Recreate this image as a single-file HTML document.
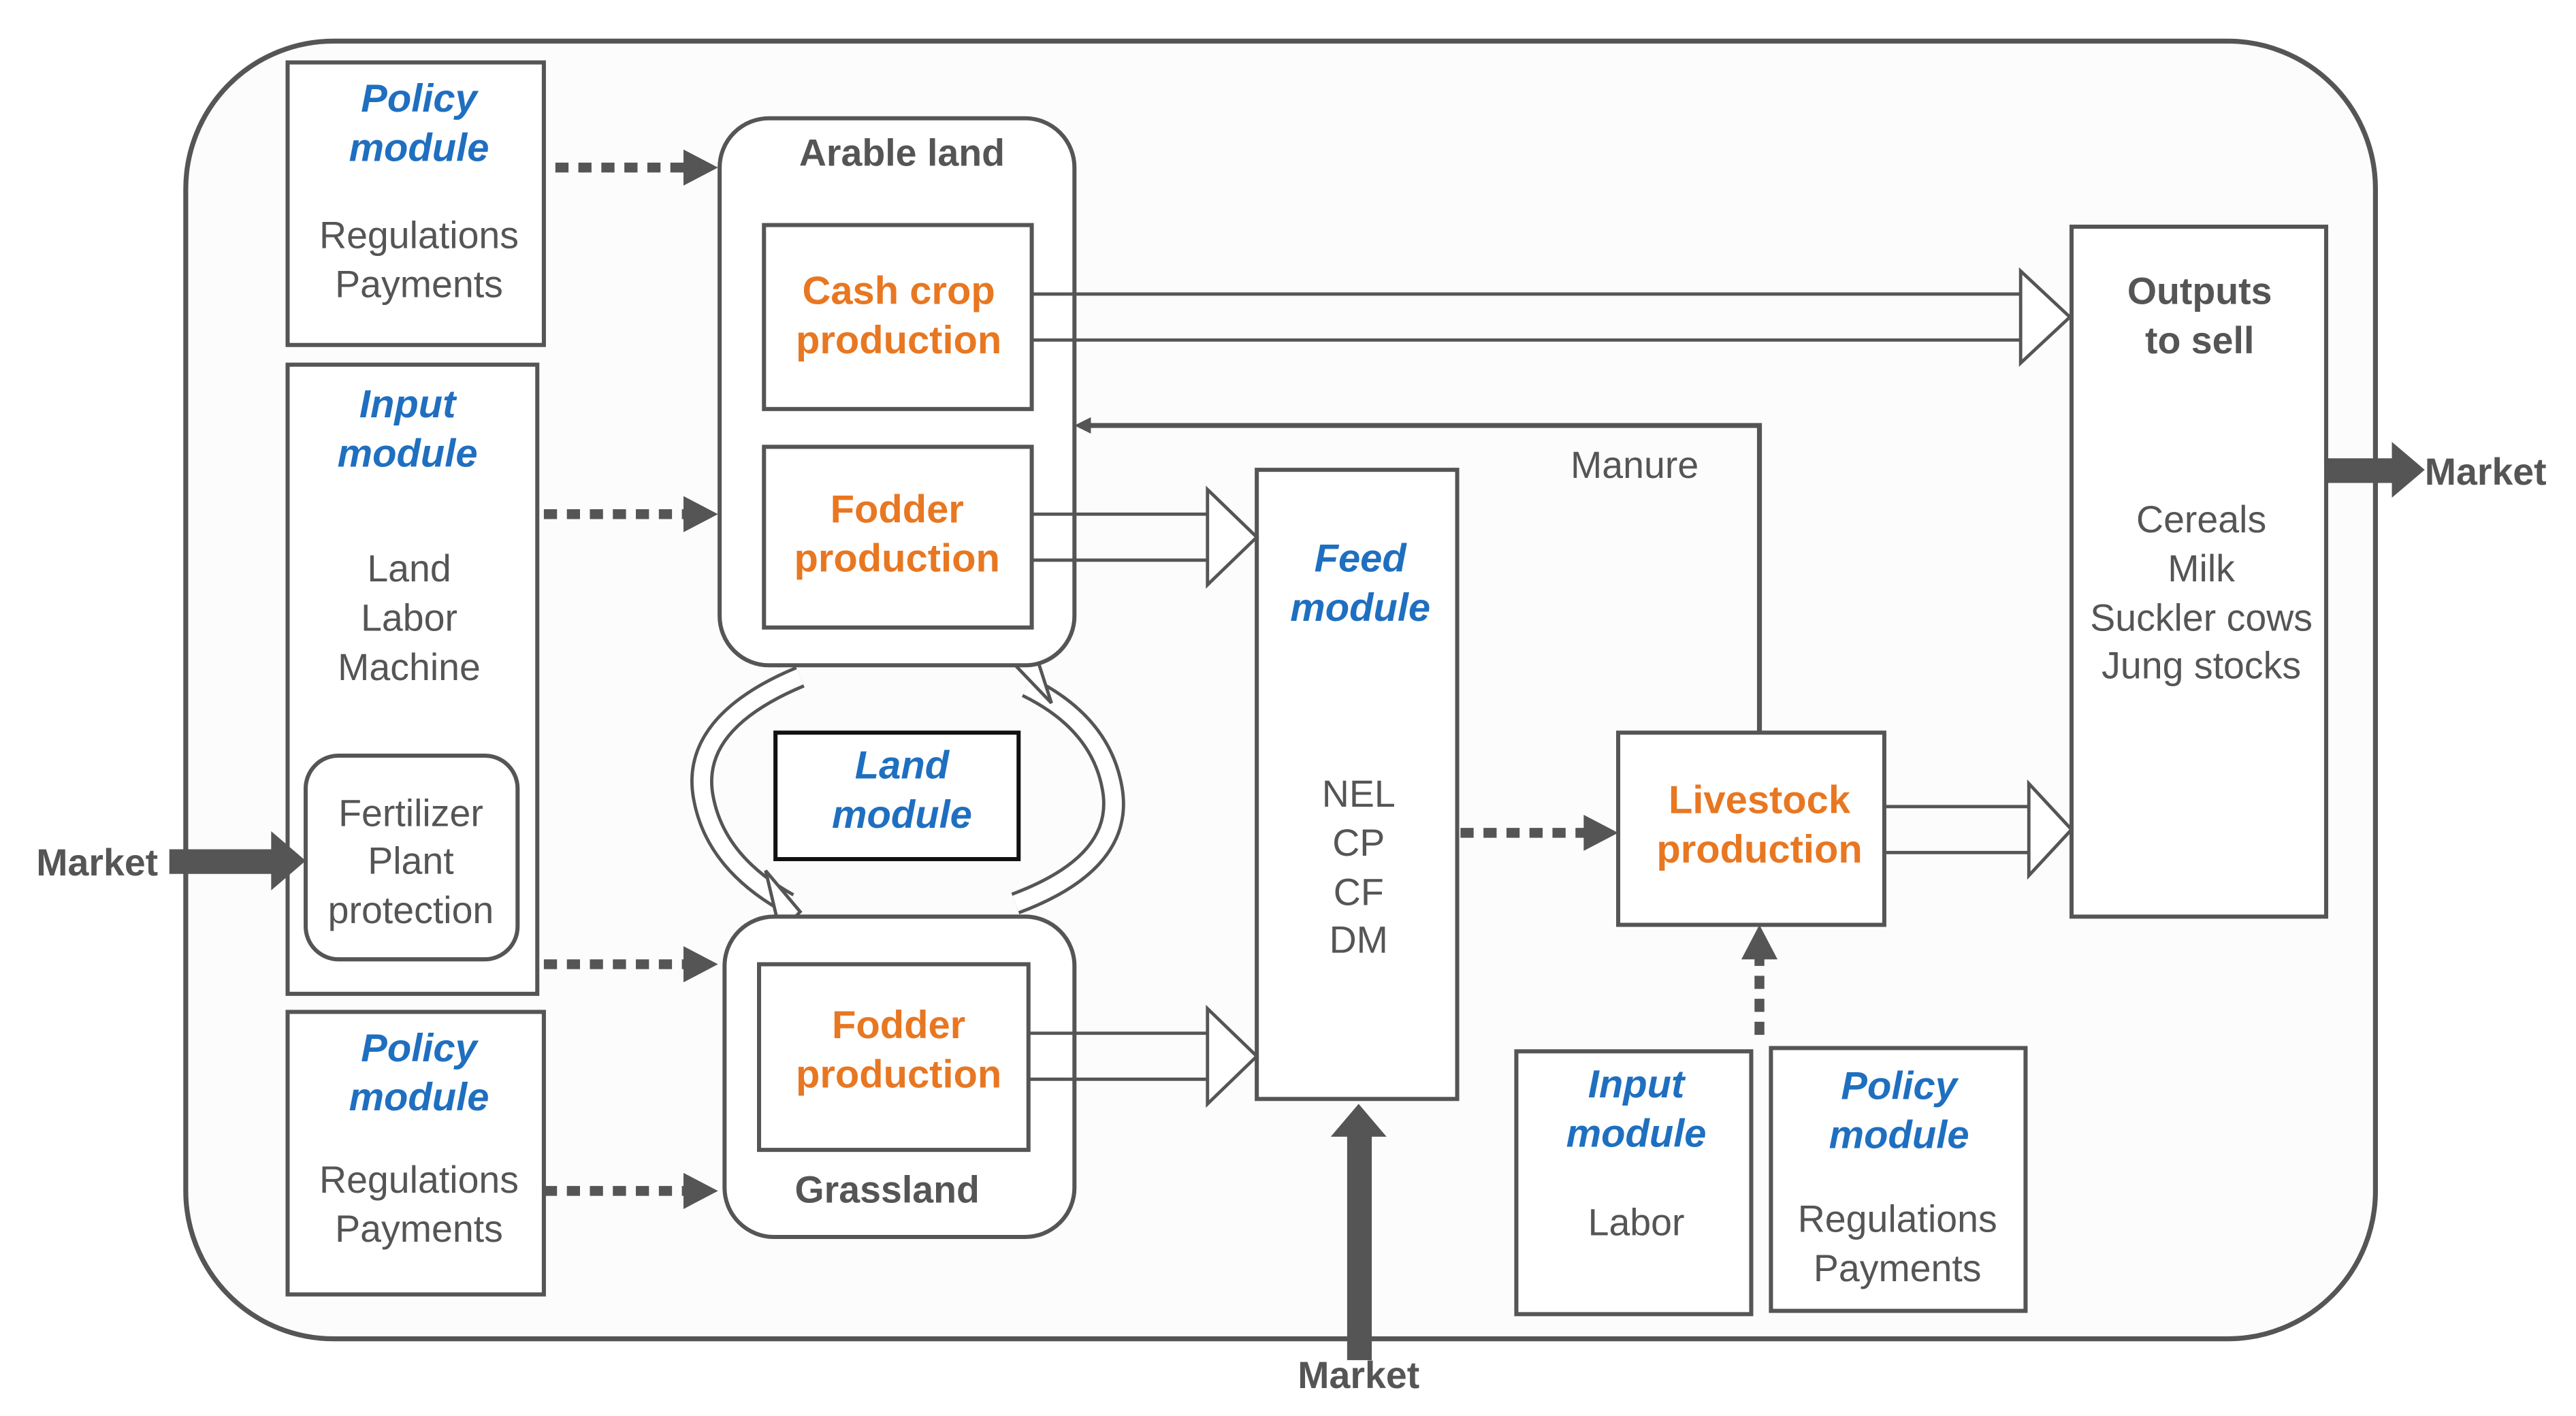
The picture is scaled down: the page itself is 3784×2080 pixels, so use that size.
<!DOCTYPE html>
<html><head><meta charset="utf-8"><style>
html,body{margin:0;padding:0;background:#fff;}
svg{display:block;}
text{font-family:"Liberation Sans",Arial,sans-serif;}
.b{fill:#1f6fc0;font-weight:bold;font-style:italic;font-size:24px;}
.o{fill:#e87722;font-weight:bold;font-size:24px;}
.g{fill:#555;font-size:23px;}
.gb{fill:#555;font-size:23px;font-weight:bold;}
.box{fill:#fff;stroke:#555;stroke-width:2.5;}
.dot{stroke:#555;stroke-width:6;stroke-dasharray:8 6;fill:none;}
.ha{fill:#fff;stroke:#555;stroke-width:2;}
</style></head><body>
<svg width="3784" height="2080" viewBox="0 0 1568 862" xmlns="http://www.w3.org/2000/svg">
<rect x="0" y="0" width="1568" height="862" fill="#fff"/>
<rect x="113" y="25" width="1333" height="790" rx="90" fill="#fcfcfc" stroke="#555" stroke-width="3"/>

<!-- left modules -->
<rect class="box" x="175" y="38" width="156" height="172"/>
<text class="b" x="255" y="68" text-anchor="middle">Policy</text>
<text class="b" x="255" y="98" text-anchor="middle">module</text>
<text class="g" x="255" y="151" text-anchor="middle">Regulations</text>
<text class="g" x="255" y="181" text-anchor="middle">Payments</text>

<rect class="box" x="175" y="222" width="152" height="383"/>
<text class="b" x="248" y="254" text-anchor="middle">Input</text>
<text class="b" x="248" y="284" text-anchor="middle">module</text>
<text class="g" x="249" y="354" text-anchor="middle">Land</text>
<text class="g" x="249" y="384" text-anchor="middle">Labor</text>
<text class="g" x="249" y="414" text-anchor="middle">Machine</text>
<rect class="box" x="186" y="460" width="129" height="124" rx="20"/>
<text class="g" x="250" y="503" text-anchor="middle">Fertilizer</text>
<text class="g" x="250" y="532" text-anchor="middle">Plant</text>
<text class="g" x="250" y="562" text-anchor="middle">protection</text>

<rect class="box" x="175" y="616" width="156" height="172"/>
<text class="b" x="255" y="646" text-anchor="middle">Policy</text>
<text class="b" x="255" y="676" text-anchor="middle">module</text>
<text class="g" x="255" y="726" text-anchor="middle">Regulations</text>
<text class="g" x="255" y="756" text-anchor="middle">Payments</text>

<!-- circular arrows -->
<g fill="none" stroke-linecap="butt">
<path d="M487 412 Q420 440 428 485 Q435 525 480 550" stroke="#555" stroke-width="14"/>
<path d="M487 412 Q420 440 428 485 Q435 525 480 550" stroke="#fff" stroke-width="10"/>
<path d="M618 550 Q685 525 677 480 Q670 440 625 418" stroke="#555" stroke-width="14"/>
<path d="M618 550 Q685 525 677 480 Q670 440 625 418" stroke="#fff" stroke-width="10"/>
</g>
<polygon class="ha" points="466,530 487,555 475,568"/>
<polygon class="ha" points="640,428 618,405 630,397"/>

<!-- arable land -->
<rect class="box" x="438" y="72" width="216" height="333" rx="30" stroke-width="3"/>
<text class="gb" x="549" y="101" text-anchor="middle">Arable land</text>
<rect class="box" x="465" y="137" width="163" height="112"/>
<text class="o" x="547" y="185" text-anchor="middle">Cash crop</text>
<text class="o" x="547" y="215" text-anchor="middle">production</text>
<rect class="box" x="465" y="272" width="163" height="110"/>
<text class="o" x="546" y="318" text-anchor="middle">Fodder</text>
<text class="o" x="546" y="348" text-anchor="middle">production</text>

<rect x="472" y="446" width="148" height="77" fill="#fff" stroke="#111" stroke-width="2.5"/>
<text class="b" x="549" y="474" text-anchor="middle">Land</text>
<text class="b" x="549" y="504" text-anchor="middle">module</text>

<rect class="box" x="441" y="558" width="213" height="195" rx="30" stroke-width="3"/>
<rect class="box" x="462" y="587" width="164" height="113"/>
<text class="o" x="547" y="632" text-anchor="middle">Fodder</text>
<text class="o" x="547" y="662" text-anchor="middle">production</text>
<text class="gb" x="540" y="732" text-anchor="middle">Grassland</text>

<!-- feed module -->
<rect class="box" x="765" y="286" width="122" height="383"/>
<text class="b" x="828" y="348" text-anchor="middle">Feed</text>
<text class="b" x="828" y="378" text-anchor="middle">module</text>
<text class="g" x="827" y="491" text-anchor="middle">NEL</text>
<text class="g" x="827" y="521" text-anchor="middle">CP</text>
<text class="g" x="827" y="551" text-anchor="middle">CF</text>
<text class="g" x="827" y="580" text-anchor="middle">DM</text>

<!-- livestock -->
<rect class="box" x="985" y="446" width="162" height="117"/>
<text class="o" x="1071" y="495" text-anchor="middle">Livestock</text>
<text class="o" x="1071" y="525" text-anchor="middle">production</text>

<!-- outputs -->
<rect class="box" x="1261" y="138" width="155" height="420"/>
<text class="gb" x="1339" y="185" text-anchor="middle">Outputs</text>
<text class="gb" x="1339" y="215" text-anchor="middle">to sell</text>
<text class="g" x="1340" y="324" text-anchor="middle">Cereals</text>
<text class="g" x="1340" y="354" text-anchor="middle">Milk</text>
<text class="g" x="1340" y="384" text-anchor="middle">Suckler cows</text>
<text class="g" x="1340" y="413" text-anchor="middle">Jung stocks</text>

<!-- bottom modules -->
<rect class="box" x="923" y="640" width="143" height="160"/>
<text class="b" x="996" y="668" text-anchor="middle">Input</text>
<text class="b" x="996" y="698" text-anchor="middle">module</text>
<text class="g" x="996" y="752" text-anchor="middle">Labor</text>
<rect class="box" x="1078" y="638" width="155" height="160"/>
<text class="b" x="1156" y="669" text-anchor="middle">Policy</text>
<text class="b" x="1156" y="699" text-anchor="middle">module</text>
<text class="g" x="1155" y="750" text-anchor="middle">Regulations</text>
<text class="g" x="1155" y="780" text-anchor="middle">Payments</text>

<!-- hollow arrows -->
<g stroke="#555" stroke-width="2" fill="none">
<path d="M628 179 H1230 M628 207 H1230"/>
<path d="M628 313 H735 M628 341 H735"/>
<path d="M626 629 H735 M626 657 H735"/>
<path d="M1147 491 H1235 M1147 519 H1235"/>
</g>
<polygon class="ha" points="1230,165 1260,193 1230,221"/>
<polygon class="ha" points="735,298 765,327 735,356"/>
<polygon class="ha" points="735,614 765,643 735,672"/>
<polygon class="ha" points="1235,477 1261,505 1235,533"/>

<!-- manure -->
<path d="M1071 446 V259 H662" stroke="#555" stroke-width="3" fill="none"/>
<polygon points="654,259 664,254 664,264" fill="#555"/>
<text class="g" x="995" y="291" text-anchor="middle">Manure</text>

<!-- dotted arrows -->
<path class="dot" d="M338 102 H418"/><polygon points="416,91 437,102 416,113" fill="#555"/>
<path class="dot" d="M331 313 H418"/><polygon points="416,302 437,313 416,324" fill="#555"/>
<path class="dot" d="M331 587 H418"/><polygon points="416,576 437,587 416,598" fill="#555"/>
<path class="dot" d="M331 725 H418"/><polygon points="416,714 437,725 416,736" fill="#555"/>
<path class="dot" d="M889 507 H966"/><polygon points="964,496 985,507 964,518" fill="#555"/>
<path class="dot" d="M1071 630 V583"/><polygon points="1060,584 1071,563 1082,584" fill="#555"/>

<!-- market arrows -->
<rect x="103" y="517" width="64" height="15" fill="#555"/>
<polygon points="165,506 186,524 165,542" fill="#555"/>
<text class="gb" x="22" y="533" font-size="23">Market</text>
<rect x="1416" y="279" width="42" height="15" fill="#555"/>
<polygon points="1456,269 1476,286 1456,303" fill="#555"/>
<text class="gb" x="1476" y="295">Market</text>
<rect x="820" y="690" width="15" height="138" fill="#555"/>
<polygon points="810,692 827,672 844,692" fill="#555"/>
<text class="gb" x="827" y="845" text-anchor="middle">Market</text>
</svg>
</body></html>
